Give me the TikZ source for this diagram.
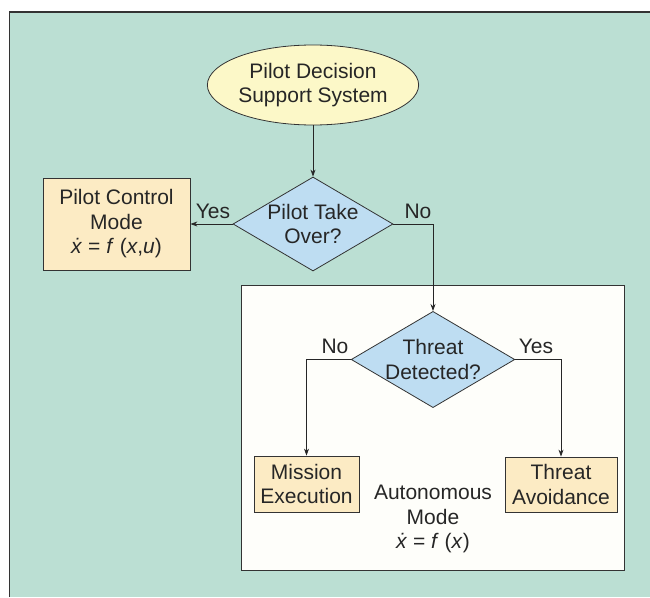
\documentclass[tikz,border=0pt]{standalone}
\usepackage{fontspec}
\setmainfont{Liberation Sans}
\usetikzlibrary{shapes.geometric,arrows.meta}
\definecolor{bgteal}{HTML}{BBDFD3}
\definecolor{ellfill}{HTML}{FCF8C8}
\definecolor{boxfill}{HTML}{FCEBC4}
\definecolor{diafill}{HTML}{BEDDF2}
\definecolor{autofill}{HTML}{FEFEFA}
\definecolor{edge}{HTML}{333333}
\tikzset{
  every node/.style={font=\fontsize{21}{24.5}\selectfont, text=black!85},
  ellnode/.style={ellipse, draw=edge, line width=0.8pt, fill=ellfill, minimum width=166pt, minimum height=80pt, inner sep=0pt, align=center},
  dianode/.style={diamond, draw=edge, line width=0.8pt, fill=diafill, minimum width=160pt, minimum height=94pt, inner sep=0pt, align=center, aspect=1.7},
  modebox/.style={rectangle, draw=edge, line width=0.8pt, fill=boxfill, inner sep=0pt, align=center},
  conn/.style={draw=black!85, line width=0.8pt, -{Stealth[length=7pt,width=5pt]}},
  lbl/.style={inner sep=0pt},
}
\begin{document}
\begin{tikzpicture}[x=1pt,y=-1pt]
\useasboundingbox (0,0) rectangle (650,597);
\fill[white] (0,0) rectangle (650,597);
\fill[bgteal] (9.5,12) rectangle (650,597);
\draw[edge, line width=1.2pt] (9.5,597) -- (9.5,12) -- (650,12);
% autonomous mode box
\node[draw=edge, line width=1pt, fill=autofill, minimum width=383pt, minimum height=285pt, inner sep=0pt] (auto) at (432.5,427.5) {};
% nodes
\node[ellnode] (pdss) at (313,85) {Pilot Decision\\Support System};
\node[dianode, minimum width=160pt, minimum height=94pt] (take) at (313,224) {Pilot Take\\Over?};
\node[modebox, minimum width=147pt, minimum height=92pt] (pcm) at (116.5,224) {Pilot Control\\Mode\\\textit{\.{x}} = \textit{f} (\textit{x},\textit{u})};
\node[dianode] (threat) at (433,359.5) {Threat\\Detected?};
\node[modebox, minimum width=105pt, minimum height=56pt] (mission) at (306.5,484) {Mission\\Execution};
\node[modebox, minimum width=112pt, minimum height=55pt] (avoid) at (561,484.5) {Threat\\Avoidance};
\node[lbl, align=center] (autotxt) at (433,519) {Autonomous\\Mode\\\textit{\.{x}} = \textit{f} (\textit{x})};
% connectors
\draw[conn] (pdss.south) -- (take.north);
\draw[conn] (take.west) -- (pcm.east);
\node[lbl] (yes1) at (213,211) {Yes};
\coordinate (c1) at (433,224);
\draw[conn] (take.east) -- (c1) -- (threat.north);
\node[lbl] (no1) at (418,211) {No};
\draw[conn] (threat.west) -| (mission.north);
\node[lbl] (no2) at (335,346) {No};
\draw[conn] (threat.east) -| (avoid.north);
\node[lbl] (yes2) at (536,346) {Yes};
\end{tikzpicture}
\end{document}
